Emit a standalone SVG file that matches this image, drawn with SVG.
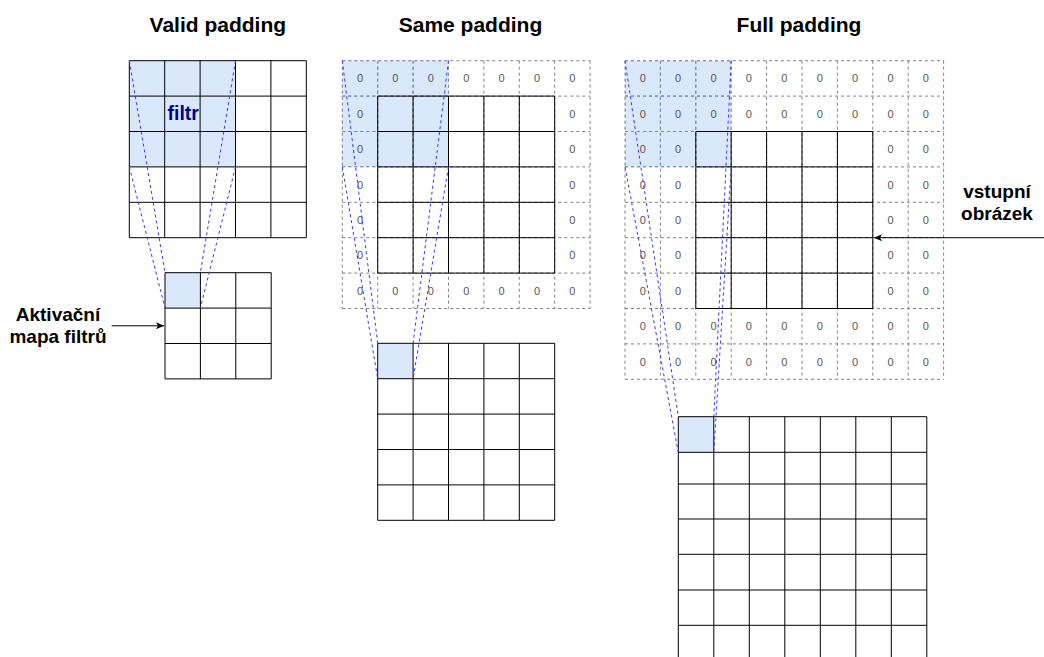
<svg xmlns="http://www.w3.org/2000/svg" width="1044" height="657" viewBox="0 0 1044 657">
<style>
.title{font-family:"Liberation Sans",Arial,sans-serif;font-weight:bold;font-size:21px;fill:#000;text-anchor:middle}
.lbl{font-family:"Liberation Sans",Arial,sans-serif;font-weight:bold;font-size:19px;fill:#000;text-anchor:middle}
.filtr{font-family:"Liberation Sans",Arial,sans-serif;font-weight:bold;font-size:19.5px;fill:#000099;text-anchor:middle}
.z{font-family:"Liberation Sans",Arial,sans-serif;font-size:11px;fill:#555;text-anchor:middle}
.hl{fill:#dae8fc;stroke:none}
.solid{fill:none;stroke:#000;stroke-width:1}
.pad{fill:none;stroke:#808080;stroke-width:1;stroke-dasharray:3 3}
.padh{fill:none;stroke:#6c8ebf;stroke-width:1;stroke-dasharray:3 3}
.proj{fill:none;stroke:#3333ff;stroke-width:1;stroke-dasharray:3 3}
.arr{fill:none;stroke:#000;stroke-width:1}
</style>
<defs>
<marker id="ah" markerUnits="userSpaceOnUse" markerWidth="9" markerHeight="8" refX="8" refY="3.5" orient="auto">
<path d="M0,0 L8,3.5 L0,7 L2,3.5 Z" fill="#000"/>
</marker>
<clipPath id="clipSame"><rect x="342.3" y="60.7" width="106.2" height="106.2"/></clipPath>
<clipPath id="clipFull"><rect x="625" y="60.7" width="106.2" height="106.2"/></clipPath>
</defs>
<rect width="1044" height="657" fill="#fff"/>

<g id="titles">
<text class="title" x="217.8" y="32">Valid padding</text>
<text class="title" x="470.5" y="32">Same padding</text>
<text class="title" x="799" y="32">Full padding</text>
</g>

<g id="valid-input">
<rect class="hl" x="129.3" y="60.7" width="106.2" height="106.2"/>
<path class="solid" d="M129.3 60.7V237.7M164.7 60.7V237.7M200.1 60.7V237.7M235.5 60.7V237.7M270.9 60.7V237.7M306.3 60.7V237.7M129.3 60.7H306.3M129.3 96.1H306.3M129.3 131.5H306.3M129.3 166.9H306.3M129.3 202.3H306.3M129.3 237.7H306.3"/>
<text class="filtr" x="183.2" y="119.5">filtr</text>
</g>

<g id="valid-output">
<rect class="hl" x="165" y="272.7" width="35.4" height="35.4"/>
<path class="solid" d="M165 272.7V378.9M200.4 272.7V378.9M235.8 272.7V378.9M271.2 272.7V378.9M165 272.7H271.2M165 308.1H271.2M165 343.5H271.2M165 378.9H271.2"/>
</g>

<g id="label-aktivacni">
<text class="lbl" x="58" y="321">Aktivační</text>
<text class="lbl" x="58" y="343">mapa filtrů</text>
</g>

<g id="same-input">
<rect class="hl" x="342.3" y="60.7" width="106.2" height="106.2"/>
<path id="sameGrid" class="pad" d="M342.3 60.7V308.5M377.7 60.7V308.5M413.1 60.7V308.5M448.5 60.7V308.5M483.9 60.7V308.5M519.3 60.7V308.5M554.7 60.7V308.5M590.1 60.7V308.5M342.3 60.7H590.1M342.3 96.1H590.1M342.3 131.5H590.1M342.3 166.9H590.1M342.3 202.3H590.1M342.3 237.7H590.1M342.3 273.1H590.1M342.3 308.5H590.1"/>
<path class="padh" clip-path="url(#clipSame)" d="M342.3 60.7V308.5M377.7 60.7V308.5M413.1 60.7V308.5M448.5 60.7V308.5M342.3 60.7H590.1M342.3 96.1H590.1M342.3 131.5H590.1M342.3 166.9H590.1"/>
<path class="solid" d="M377.7 96.1V273.1M413.1 96.1V273.1M448.5 96.1V273.1M483.9 96.1V273.1M519.3 96.1V273.1M554.7 96.1V273.1M377.7 96.1H554.7M377.7 131.5H554.7M377.7 166.9H554.7M377.7 202.3H554.7M377.7 237.7H554.7M377.7 273.1H554.7"/>
<text class="z" x="360" y="82.4">0</text><text class="z" x="395.4" y="82.4">0</text><text class="z" x="430.8" y="82.4">0</text><text class="z" x="466.2" y="82.4">0</text><text class="z" x="501.6" y="82.4">0</text><text class="z" x="537" y="82.4">0</text><text class="z" x="572.4" y="82.4">0</text>
<text class="z" x="360" y="117.8">0</text><text class="z" x="572.4" y="117.8">0</text>
<text class="z" x="360" y="153.2">0</text><text class="z" x="572.4" y="153.2">0</text>
<text class="z" x="360" y="188.6">0</text><text class="z" x="572.4" y="188.6">0</text>
<text class="z" x="360" y="224">0</text><text class="z" x="572.4" y="224">0</text>
<text class="z" x="360" y="259.4">0</text><text class="z" x="572.4" y="259.4">0</text>
<text class="z" x="360" y="294.8">0</text><text class="z" x="395.4" y="294.8">0</text><text class="z" x="430.8" y="294.8">0</text><text class="z" x="466.2" y="294.8">0</text><text class="z" x="501.6" y="294.8">0</text><text class="z" x="537" y="294.8">0</text><text class="z" x="572.4" y="294.8">0</text>
</g>

<g id="same-output">
<rect class="hl" x="377.7" y="343.3" width="35.4" height="35.4"/>
<path class="solid" d="M377.7 343.3V520.3M413.1 343.3V520.3M448.5 343.3V520.3M483.9 343.3V520.3M519.3 343.3V520.3M554.7 343.3V520.3M377.7 343.3H554.7M377.7 378.7H554.7M377.7 414.1H554.7M377.7 449.5H554.7M377.7 484.9H554.7M377.7 520.3H554.7"/>
</g>

<g id="full-input">
<rect class="hl" x="625" y="60.7" width="106.2" height="106.2"/>
<path class="pad" d="M625 60.7V379.3M660.4 60.7V379.3M695.8 60.7V379.3M731.2 60.7V379.3M766.6 60.7V379.3M802 60.7V379.3M837.4 60.7V379.3M872.8 60.7V379.3M908.2 60.7V379.3M943.6 60.7V379.3M625 60.7H943.6M625 96.1H943.6M625 131.5H943.6M625 166.9H943.6M625 202.3H943.6M625 237.7H943.6M625 273.1H943.6M625 308.5H943.6M625 343.9H943.6M625 379.3H943.6"/>
<path class="padh" clip-path="url(#clipFull)" d="M625 60.7V379.3M660.4 60.7V379.3M695.8 60.7V379.3M731.2 60.7V379.3M625 60.7H943.6M625 96.1H943.6M625 131.5H943.6M625 166.9H943.6"/>
<path class="solid" d="M695.8 131.5V308.5M731.2 131.5V308.5M766.6 131.5V308.5M802 131.5V308.5M837.4 131.5V308.5M872.8 131.5V308.5M695.8 131.5H872.8M695.8 166.9H872.8M695.8 202.3H872.8M695.8 237.7H872.8M695.8 273.1H872.8M695.8 308.5H872.8"/>
<text class="z" x="642.7" y="82.4">0</text><text class="z" x="678.1" y="82.4">0</text><text class="z" x="713.5" y="82.4">0</text><text class="z" x="748.9" y="82.4">0</text><text class="z" x="784.3" y="82.4">0</text><text class="z" x="819.7" y="82.4">0</text><text class="z" x="855.1" y="82.4">0</text><text class="z" x="890.5" y="82.4">0</text><text class="z" x="925.9" y="82.4">0</text>
<text class="z" x="642.7" y="117.8">0</text><text class="z" x="678.1" y="117.8">0</text><text class="z" x="713.5" y="117.8">0</text><text class="z" x="748.9" y="117.8">0</text><text class="z" x="784.3" y="117.8">0</text><text class="z" x="819.7" y="117.8">0</text><text class="z" x="855.1" y="117.8">0</text><text class="z" x="890.5" y="117.8">0</text><text class="z" x="925.9" y="117.8">0</text>
<text class="z" x="642.7" y="153.2">0</text><text class="z" x="678.1" y="153.2">0</text><text class="z" x="890.5" y="153.2">0</text><text class="z" x="925.9" y="153.2">0</text>
<text class="z" x="642.7" y="188.6">0</text><text class="z" x="678.1" y="188.6">0</text><text class="z" x="890.5" y="188.6">0</text><text class="z" x="925.9" y="188.6">0</text>
<text class="z" x="642.7" y="224">0</text><text class="z" x="678.1" y="224">0</text><text class="z" x="890.5" y="224">0</text><text class="z" x="925.9" y="224">0</text>
<text class="z" x="642.7" y="259.4">0</text><text class="z" x="678.1" y="259.4">0</text><text class="z" x="890.5" y="259.4">0</text><text class="z" x="925.9" y="259.4">0</text>
<text class="z" x="642.7" y="294.8">0</text><text class="z" x="678.1" y="294.8">0</text><text class="z" x="890.5" y="294.8">0</text><text class="z" x="925.9" y="294.8">0</text>
<text class="z" x="642.7" y="330.2">0</text><text class="z" x="678.1" y="330.2">0</text><text class="z" x="713.5" y="330.2">0</text><text class="z" x="748.9" y="330.2">0</text><text class="z" x="784.3" y="330.2">0</text><text class="z" x="819.7" y="330.2">0</text><text class="z" x="855.1" y="330.2">0</text><text class="z" x="890.5" y="330.2">0</text><text class="z" x="925.9" y="330.2">0</text>
<text class="z" x="642.7" y="365.6">0</text><text class="z" x="678.1" y="365.6">0</text><text class="z" x="713.5" y="365.6">0</text><text class="z" x="748.9" y="365.6">0</text><text class="z" x="784.3" y="365.6">0</text><text class="z" x="819.7" y="365.6">0</text><text class="z" x="855.1" y="365.6">0</text><text class="z" x="890.5" y="365.6">0</text><text class="z" x="925.9" y="365.6">0</text>
</g>

<g id="full-output">
<rect class="hl" x="678.3" y="416.7" width="35.5" height="35.6"/>
<path class="solid" d="M678.3 416.7V661M713.8 416.7V661M749.3 416.7V661M784.8 416.7V661M820.3 416.7V661M855.8 416.7V661M891.3 416.7V661M926.8 416.7V661M678.3 416.7H926.8M678.3 452.3H926.8M678.3 484H926.8M678.3 519H926.8M678.3 554.3H926.8M678.3 590H926.8M678.3 625.3H926.8"/>
</g>

<g id="label-vstupni">
<text class="lbl" x="997" y="197.5">vstupní</text>
<text class="lbl" x="997" y="220">obrázek</text>
</g>

<g id="connectors">
<path class="proj" d="M129.3 60.7L165 272.7M129.3 166.9L165 308.1M235.5 60.7L200.4 272.7M235.5 166.9L200.4 308.1"/>
<path class="proj" d="M342.3 60.7L377.7 343.3M342.3 166.9L377.7 378.7M448.5 60.7L413.1 343.3M448.5 166.9L413.1 378.7"/>
<path class="proj" d="M625 60.7L678.3 416.7M625 166.9L678.3 452.3M731.2 60.7L713.8 416.7M731.2 166.9L713.8 452.3"/>
<line class="arr" x1="111.7" y1="325.8" x2="164" y2="325.8" marker-end="url(#ah)"/>
<line class="arr" x1="1044" y1="237.7" x2="874" y2="237.7" marker-end="url(#ah)"/>
</g>
</svg>
